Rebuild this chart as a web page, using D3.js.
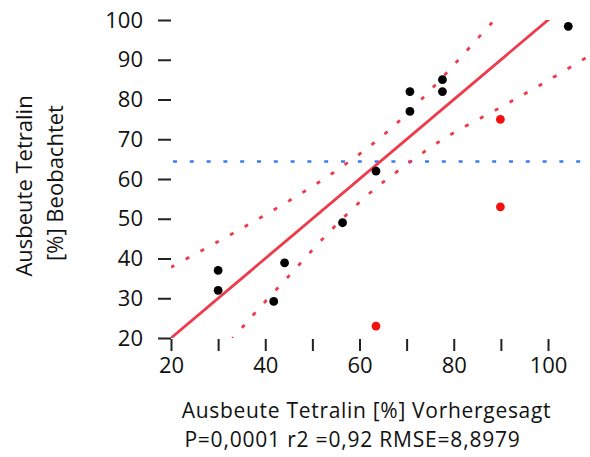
<!DOCTYPE html>
<html>
<head>
<meta charset="utf-8">
<script src="https://cdn.jsdelivr.net/npm/d3@7"></script>
<style>
  html, body { margin: 0; padding: 0; background: #fff; }
  svg { display: block; }
  text { font-family: "Open Sans", "Noto Sans", sans-serif; fill: #111; }
</style>
</head>
<body>
<script>
// Included runs: predicted vs. observed yield
const predictedIncluded = [30, 30, 41.8, 44.1, 56.4, 63.5, 70.7, 70.7, 77.6, 77.6, 104.3];
const observedIncluded  = [37, 32, 29.2, 38.9, 49, 62, 77, 82, 85, 82, 98.4];

// Excluded runs
const predictedExcluded = [63.5, 89.9, 89.9];
const observedExcluded  = [23, 75, 53];

// Fit line (actual by predicted)
const fitX = [20, 110];
const fitY = [20, 110];

// Confidence curves
const upperBandX = [20, 29.9, 39.3, 48.6, 57.5, 65.9, 73.7, 81.1, 88.1, 92];
const upperBandY = [37.8, 44.2, 50.5, 57.1, 64.1, 71.9, 80.7, 90.1, 99.3, 104];
const lowerBandX = [28, 33.4, 38.2, 45.4, 52.8, 60.5, 66.1, 77.7, 90.2, 99.6, 108.5, 110];
const lowerBandY = [13, 20.3, 26.8, 36.1, 45.7, 54.7, 60.2, 70.0, 78.2, 84.5, 90.8, 91.8];

// Mean of observed values
const meanObserved = 64.4;

const xTicks = [20, 30, 40, 50, 60, 70, 80, 90, 100];
const xTickLabels = [20, 40, 60, 80, 100];
const yTicks = [20, 30, 40, 50, 60, 70, 80, 90, 100];

const xTitle = "Ausbeute Tetralin [%] Vorhergesagt";
const statsLine = "P=0,0001 r2 =0,92 RMSE=8,8979";
const yTitle = ["Ausbeute Tetralin", "[%] Beobachtet"];

const W = 590, H = 457;
const plotLeft = 171, plotRight = 590, plotTop = 20, plotBottom = 338;

const x = d3.scaleLinear().domain([20, 100]).range([171, 548]);
const y = d3.scaleLinear().domain([20, 100]).range([338, 20]);

const svg = d3.select("body").append("svg").attr("width", W).attr("height", H);

svg.append("defs").append("clipPath").attr("id", "plot-clip")
  .append("rect")
  .attr("x", plotLeft).attr("y", plotTop)
  .attr("width", plotRight - plotLeft).attr("height", plotBottom - plotTop);

// Axes (ticks only, no domain line)
const fontSize = 22;
const yAxis = d3.axisLeft(y).tickValues(yTicks).tickSize(13).tickPadding(15);
const gy = svg.append("g").attr("transform", `translate(${plotLeft},0)`).call(yAxis);
const xAxis = d3.axisBottom(x).tickValues(xTicks).tickSize(12).tickPadding(6)
  .tickFormat(d => xTickLabels.includes(d) ? d : "");
const gx = svg.append("g").attr("transform", `translate(0,${plotBottom + 1})`).call(xAxis);
[gx, gy].forEach(g => {
  g.select(".domain").remove();
  g.selectAll(".tick line").attr("stroke", "#222").attr("stroke-width", 2);
  g.selectAll(".tick text").attr("font-size", fontSize)
    .attr("font-family", '"Open Sans", sans-serif').attr("fill", "#111");
});

const plot = svg.append("g").attr("clip-path", "url(#plot-clip)");

// Mean reference line
plot.append("line")
  .attr("x1", plotLeft + 2).attr("x2", plotRight)
  .attr("y1", y(meanObserved)).attr("y2", y(meanObserved))
  .attr("stroke", "#3b7bf2").attr("stroke-width", 2.6)
  .attr("stroke-dasharray", "4,12.8");

const curve = d3.line().x(d => x(d[0])).y(d => y(d[1])).curve(d3.curveCatmullRom);

plot.append("path")
  .datum(upperBandX.map((v, i) => [v, upperBandY[i]]))
  .attr("d", curve).attr("fill", "none")
  .attr("stroke", "#ef3a4c").attr("stroke-width", 2.8)
  .attr("stroke-dasharray", "4,12.8");

plot.append("path")
  .datum(lowerBandX.map((v, i) => [v, lowerBandY[i]]))
  .attr("d", curve).attr("fill", "none")
  .attr("stroke", "#ef3a4c").attr("stroke-width", 2.8)
  .attr("stroke-dasharray", "4,12.8");

// Fit line
plot.append("path")
  .datum(fitX.map((v, i) => [v, fitY[i]]))
  .attr("d", d3.line().x(d => x(d[0])).y(d => y(d[1])))
  .attr("fill", "none").attr("stroke", "#ef3a4c").attr("stroke-width", 2.8);

// Points
svg.append("g").selectAll("circle")
  .data(predictedIncluded.map((v, i) => [v, observedIncluded[i]]))
  .join("circle")
  .attr("cx", d => x(d[0])).attr("cy", d => y(d[1])).attr("r", 4.4)
  .attr("fill", "#000");

svg.append("g").selectAll("circle")
  .data(predictedExcluded.map((v, i) => [v, observedExcluded[i]]))
  .join("circle")
  .attr("cx", d => x(d[0])).attr("cy", d => y(d[1])).attr("r", 4.4)
  .attr("fill", "#f50f0f");

// Titles
const titleSize = 21;
svg.append("text").attr("x", 366.5).attr("y", 418)
  .attr("text-anchor", "middle").attr("font-size", titleSize)
  .attr("letter-spacing", 0.7).text(xTitle);
svg.append("text").attr("x", 352.5).attr("y", 447)
  .attr("text-anchor", "middle").attr("font-size", titleSize)
  .attr("letter-spacing", 0.8).text(statsLine);

svg.append("text").attr("transform", "translate(32,186) rotate(-90)")
  .attr("text-anchor", "middle").attr("font-size", fontSize).text(yTitle[0]);
svg.append("text").attr("transform", "translate(63,183) rotate(-90)")
  .attr("text-anchor", "middle").attr("font-size", fontSize).text(yTitle[1]);
</script>
</body>
</html>
